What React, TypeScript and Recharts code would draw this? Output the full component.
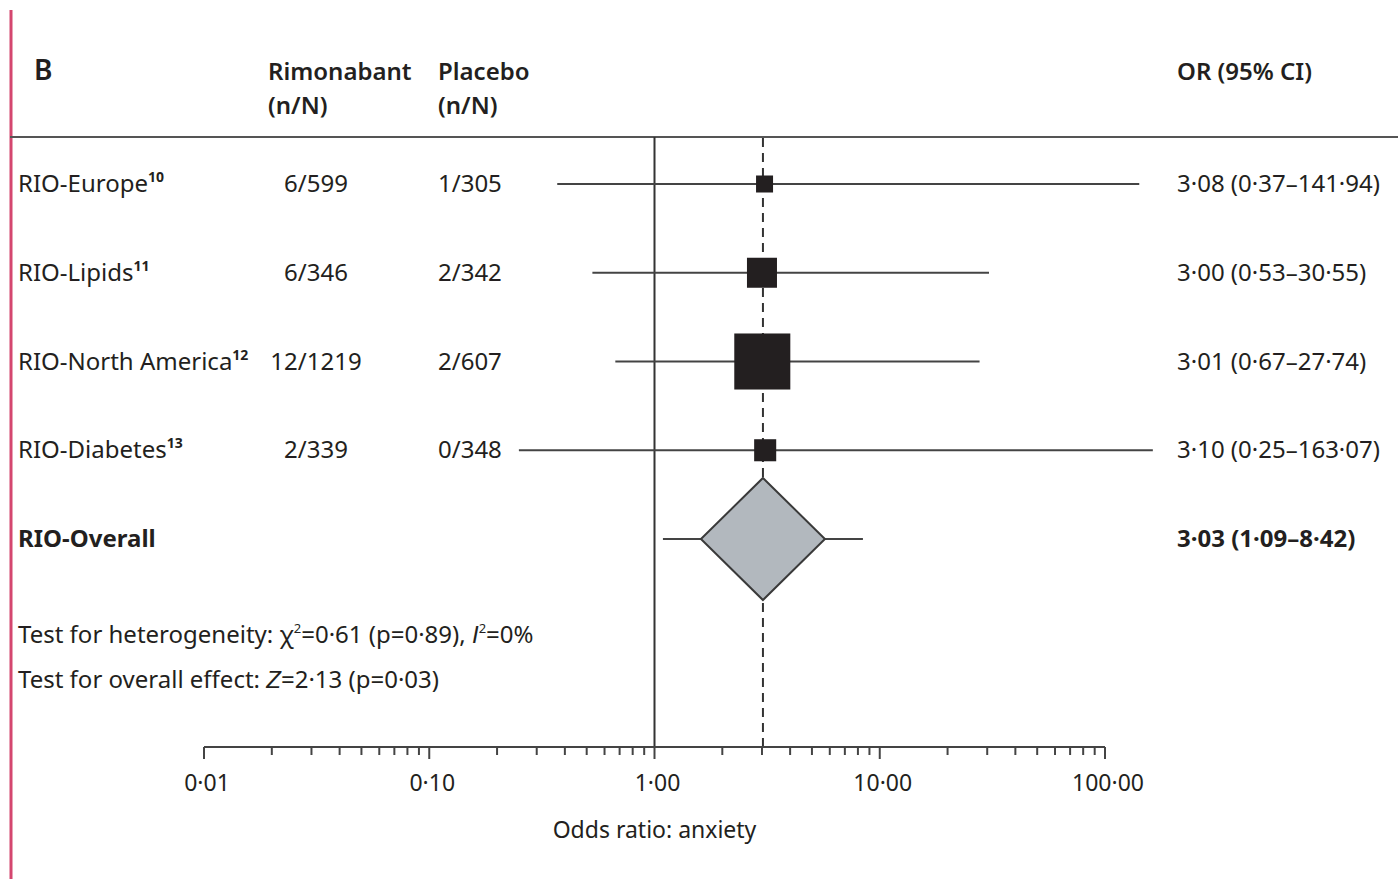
import React from "react";
import { ComposedChart, XAxis, YAxis, Scatter, ReferenceLine } from "recharts";

// ---- data ----
const studies = ["RIO-Europe", "RIO-Lipids", "RIO-North America", "RIO-Diabetes", "RIO-Overall"];
const refNumbers = ["10", "11", "12", "13", ""];
const rimonabantCounts = ["6/599", "6/346", "12/1219", "2/339", ""];
const placeboCounts = ["1/305", "2/342", "2/607", "0/348", ""];
const oddsRatios = [3.08, 3.0, 3.01, 3.1, 3.03];
const ciLower = [0.37, 0.53, 0.67, 0.25, 1.09];
const ciUpper = [141.94, 30.55, 27.74, 163.07, 8.42];
const weights = [6.0, 18.7, 65.2, 10.1, 100];
const majorTicks = [0.01, 0.1, 1, 10, 100];
const majorTickLabels = ["0·01", "0·10", "1·00", "10·00", "100·00"];
const minorMultipliers = [2, 3, 4, 5, 6, 7, 8, 9];

const FONT = "'Noto Sans', 'Open Sans', sans-serif";
const ITALIC_FONT = "'Liberation Sans', 'DejaVu Sans', sans-serif";
const INK = "#231f20";
const LINE = "#444444";

const fmt = (v: number) => v.toFixed(2).replace(".", "·");

const rows = studies.map((name, i) => ({
  row: i,
  name,
  ref: refNumbers[i],
  rim: rimonabantCounts[i],
  pla: placeboCounts[i],
  or: oddsRatios[i],
  lo: ciLower[i],
  hi: ciUpper[i],
  weight: weights[i],
}));

const overallIndex = studies.length - 1;
const allTicks = [
  ...majorTicks,
  ...majorTicks.slice(0, -1).flatMap((m) => minorMultipliers.map((k) => +(m * k).toPrecision(3))),
].sort((a, b) => a - b);

// layout
const W = 1398;
const H = 879;
const PLOT_TOP = 137;
const PLOT_BOTTOM = 747;
const FIRST_ROW_Y = 184;
const LAST_ROW_Y = 539;
const rowStep = (LAST_ROW_Y - FIRST_ROW_Y) / overallIndex;
const yDomain: [number, number] = [
  -(FIRST_ROW_Y - PLOT_TOP) / rowStep,
  overallIndex + (PLOT_BOTTOM - LAST_ROW_Y) / rowStep,
];

const AxisTick = (props: any) => {
  const { x, y, payload } = props;
  const idx = majorTicks.indexOf(payload.value);
  const major = idx >= 0;
  return (
    <g>
      <line x1={x} x2={x} y1={y} y2={y + (major ? 12 : 8)} stroke={LINE} strokeWidth={2} />
      {major && (
        <text x={x + 3} y={y + 44} textAnchor="middle" fontFamily={FONT} fontSize={23} fill={INK}>
          {majorTickLabels[idx]}
        </text>
      )}
    </g>
  );
};

const Marker = (props: any) => {
  const { cx, cy, payload } = props;
  if (cx == null || cy == null || !payload) return null;
  const overall = payload.row === overallIndex;
  const ty = cy + 8;
  const textProps = { fontFamily: FONT, fontSize: 24, fill: INK };
  let mark;
  if (overall) {
    const hw = 62;
    const hh = 61;
    mark = (
      <polygon
        points={`${cx},${cy - hh} ${cx + hw},${cy} ${cx},${cy + hh} ${cx - hw},${cy}`}
        fill="#b2b8be"
        stroke="#3a3a3a"
        strokeWidth={2}
      />
    );
  } else {
    const s = 6.94 * Math.sqrt(payload.weight);
    mark = <rect x={cx - s / 2} y={cy - s / 2} width={s} height={s} fill={INK} />;
  }
  return (
    <g>
      {mark}
      <text x={18} y={ty} {...textProps} fontWeight={overall ? 700 : 400}>
        {payload.name}
        {payload.ref && (
          <tspan fontSize={14} fontWeight={700} dy={-10}>
            {payload.ref}
          </tspan>
        )}
      </text>
      {payload.rim && (
        <text x={316} y={ty} textAnchor="middle" {...textProps}>
          {payload.rim}
        </text>
      )}
      {payload.pla && (
        <text x={438} y={ty} {...textProps}>
          {payload.pla}
        </text>
      )}
      <text x={1177} y={ty} {...textProps} fontWeight={overall ? 700 : 400}>
        {`${fmt(payload.or)} (${fmt(payload.lo)}–${fmt(payload.hi)})`}
      </text>
    </g>
  );
};

export default function App() {
  return (
    <div style={{ position: "absolute", left: 0, top: 0, width: W, height: H, background: "#fff" }}>
      <svg
        width={W}
        height={H}
        style={{ position: "absolute", left: 0, top: 0 }}
        fontFamily={FONT}
      >
        <line x1={11} x2={11} y1={10} y2={H} stroke="#d4466f" strokeWidth={3} />
        <line x1={10} x2={W} y1={PLOT_TOP} y2={PLOT_TOP} stroke="#555" strokeWidth={2} />
        <text x={34} y={80} fontSize={28} fontWeight={600} fill={INK}>B</text>
        <text x={268} y={80} fontSize={24} fontWeight={600} fill={INK}>Rimonabant</text>
        <text x={268} y={114} fontSize={24} fontWeight={600} fill={INK}>(n/N)</text>
        <text x={438} y={80} fontSize={24} fontWeight={600} fill={INK}>Placebo</text>
        <text x={438} y={114} fontSize={24} fontWeight={600} fill={INK}>(n/N)</text>
        <text x={1177} y={80} fontSize={24} fontWeight={600} fill={INK}>OR (95% CI)</text>
        <text x={18} y={643} fontSize={24} fill={INK}>
          Test for heterogeneity: χ
          <tspan fontSize={13} dy={-10}>2</tspan>
          <tspan dy={10}>=0·61 (p=0·89), </tspan>
          <tspan fontStyle="italic" fontFamily={ITALIC_FONT}>I</tspan>
          <tspan fontSize={13} dy={-10}>2</tspan>
          <tspan dy={10}>=0%</tspan>
        </text>
        <text x={18} y={688} fontSize={24} fill={INK}>
          Test for overall effect: <tspan fontStyle="italic" fontFamily={ITALIC_FONT}>Z</tspan>=2·13 (p=0·03)
        </text>
      </svg>
      <div style={{ position: "absolute", left: 0, top: 0 }}>
        <ComposedChart
          width={W}
          height={H}
          data={rows}
          margin={{ top: PLOT_TOP, right: W - 1105, bottom: H - PLOT_BOTTOM - 100, left: 204 }}
        >
          <XAxis
            dataKey="or"
            type="number"
            scale="log"
            domain={[0.01, 100]}
            ticks={allTicks}
            interval={0}
            tickLine={false}
            tickSize={0}
            tickMargin={0}
            tick={<AxisTick />}
            axisLine={{ stroke: LINE, strokeWidth: 2 }}
            height={100}
            label={{
              value: "Odds ratio: anxiety",
              position: "insideBottom",
              offset: 9,
              style: { fontFamily: FONT, fontSize: 23, fill: INK },
            }}
          />
          <YAxis dataKey="row" type="number" scale="linear" domain={yDomain} reversed hide />
          <ReferenceLine x={1} stroke="#333" strokeWidth={2} zIndex={100} />
          <ReferenceLine
            x={oddsRatios[overallIndex]}
            stroke="#333"
            strokeWidth={2}
            strokeDasharray="9 6"
            zIndex={100}
          />
          {rows.map((r) => (
            <ReferenceLine
              key={r.name}
              segment={[
                { x: r.lo, y: r.row },
                { x: r.hi, y: r.row },
              ]}
              ifOverflow="visible"
              stroke={LINE}
              strokeWidth={2}
              zIndex={100}
            />
          ))}
          <Scatter dataKey="row" data={rows} isAnimationActive={false} shape={<Marker />} zIndex={600} />
        </ComposedChart>
      </div>
    </div>
  );
}
